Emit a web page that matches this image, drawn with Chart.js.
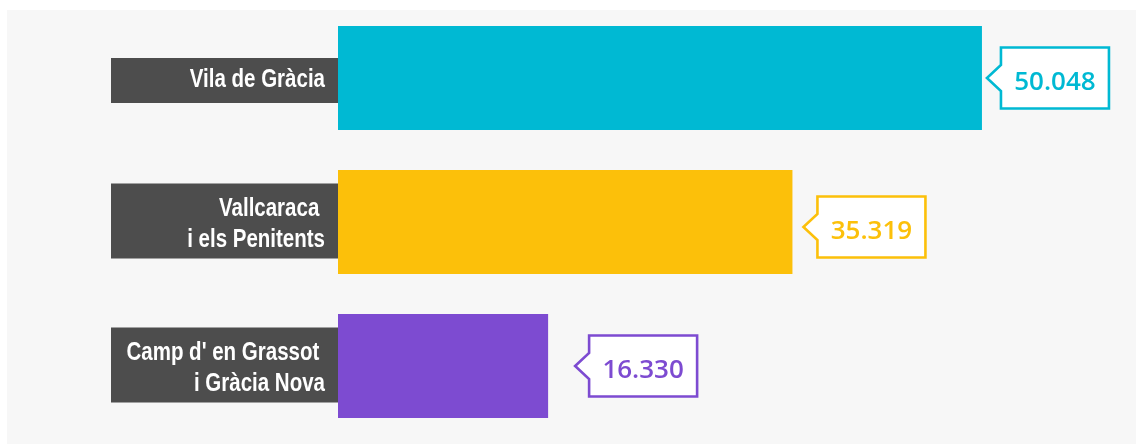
<!DOCTYPE html>
<html>
<head>
<meta charset="utf-8">
<script src="https://cdn.jsdelivr.net/npm/chart.js@4/dist/chart.umd.min.js"></script>
<style>
  html, body { margin: 0; padding: 0; background: #ffffff; }
  #wrap { width: 1136px; height: 444px; position: relative; }
</style>
</head>
<body>
<div id="wrap"><canvas id="c" width="1136" height="444"></canvas></div>
<script>
// ---- data ----
const categories = [
  ['Vila de Gràcia'],
  ['Vallcaraca ', 'i els Penitents'],
  ["Camp d' en Grassot ", 'i Gràcia Nova']
];
const populationValues = [50048, 35319, 16330];
const barColors = ['#00b9d3', '#fcc00a', '#7d4bd1'];

// ---- style tweaks ----
const calloutGap = [5, 11, 27];
const calloutDy = [0, 5, 0];
const labelBoxDy = [2.5, -1, -1];

function fmt(v) {
  return String(v).replace(/\B(?=(\d{3})+(?!\d))/g, '.');
}

const decorPlugin = {
  id: 'decor',
  beforeDraw(chart) {
    const ctx = chart.ctx;
    ctx.save();
    ctx.fillStyle = '#f7f7f7';
    ctx.fillRect(7, 10, chart.width - 7, chart.height - 10);
    ctx.restore();
  },
  afterDatasetsDraw(chart) {
    const ctx = chart.ctx;
    const meta = chart.getDatasetMeta(0);
    const left = chart.chartArea.left;
    meta.data.forEach((bar, i) => {
      const cy = bar.y;
      const lines = categories[i];
      // label box
      const boxH = lines.length === 1 ? 45 : 75;
      ctx.save();
      ctx.fillStyle = '#4d4d4d';
      ctx.fillRect(left - 227, cy - boxH / 2 + labelBoxDy[i], 227, boxH);
      ctx.fillStyle = '#ffffff';
      ctx.font = 'bold 25px "Liberation Sans", Arial, sans-serif';
      ctx.textAlign = 'right';
      ctx.textBaseline = 'alphabetic';
      const lh = 31, cap = 18;
      const n = lines.length;
      const sx = 0.82;
      lines.forEach((t, j) => {
        const capCenter = cy + (j - (n - 1) / 2) * lh;
        ctx.save();
        ctx.translate(left - 13, capCenter + cap / 2);
        ctx.scale(sx, 1);
        ctx.fillText(t, 0, 0);
        ctx.restore();
      });
      ctx.restore();

      // callout
      const tip = bar.x + calloutGap[i];
      const ccy = cy + calloutDy[i];
      const L = tip + 14, W = 108, H = 61;
      const T = ccy - H / 2, B = ccy + H / 2;
      ctx.save();
      ctx.beginPath();
      ctx.moveTo(L, T);
      ctx.lineTo(L + W, T);
      ctx.lineTo(L + W, B);
      ctx.lineTo(L, B);
      ctx.lineTo(L, ccy + 13);
      ctx.lineTo(tip, ccy);
      ctx.lineTo(L, ccy - 13);
      ctx.closePath();
      ctx.fillStyle = '#ffffff';
      ctx.fill();
      ctx.lineWidth = 2.6;
      ctx.lineJoin = 'miter';
      ctx.strokeStyle = barColors[i];
      ctx.stroke();
      ctx.fillStyle = barColors[i];
      ctx.font = '600 26px "Open Sans", "Liberation Sans", sans-serif';
      ctx.textAlign = 'center';
      ctx.textBaseline = 'alphabetic';
      ctx.fillText(fmt(populationValues[i]), L + W / 2, ccy + 12);
      ctx.restore();
    });
  }
};

new Chart(document.getElementById('c'), {
  type: 'bar',
  data: {
    labels: categories,
    datasets: [{
      data: populationValues,
      backgroundColor: barColors,
      borderWidth: 0,
      barPercentage: 0.723,
      categoryPercentage: 1.0
    }]
  },
  options: {
    indexAxis: 'y',
    responsive: false,
    animation: false,
    events: [],
    layout: { padding: { left: 338, right: 26, top: 6, bottom: 6 } },
    plugins: { legend: { display: false }, tooltip: { enabled: false } },
    scales: {
      x: { display: false, min: 0, max: 60000 },
      y: { display: false }
    }
  },
  plugins: [decorPlugin]
});
</script>
</body>
</html>
